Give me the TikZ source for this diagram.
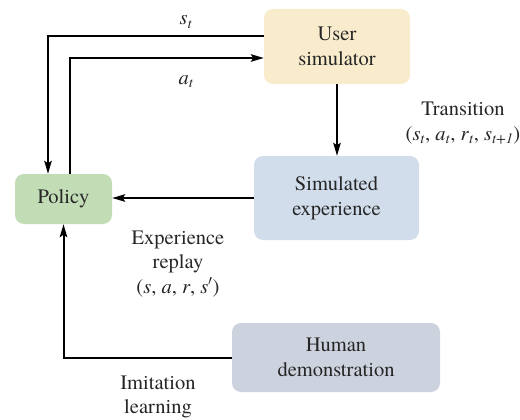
\documentclass[tikz,border=0pt]{standalone}
\usepackage{fontspec}
\setmainfont{texgyretermes-regular.otf}[ItalicFont=texgyretermes-italic.otf, BoldFont=texgyretermes-bold.otf]
\usetikzlibrary{arrows.meta}
\newcommand{\ivar}[2]{\textit{#1}\textsubscript{\textit{#2}}}
\begin{document}
\begin{tikzpicture}[x=1pt,y=-1pt,
  font=\fontsize{20.5}{24.5}\selectfont,
  every node/.style={text=black!85, align=center},
  box/.style={rounded corners=9pt, draw=none, inner sep=0pt},
  lbl/.style={inner sep=0pt},
  arr/.style={line width=2pt, draw=black, -{Stealth[length=13pt,width=7.5pt,inset=2.5pt]}}]
\useasboundingbox (0,0) rectangle (520,420);
\definecolor{cuser}{HTML}{F8ECCC}
\definecolor{cpol}{HTML}{C2DCB6}
\definecolor{csim}{HTML}{D1DDEB}
\definecolor{chum}{HTML}{CDD3DE}

\node[box, fill=cuser, minimum width=146pt, minimum height=75pt] (user) at (337,46.5) {User\\simulator};
\node[box, fill=cpol, minimum width=97pt, minimum height=50pt] (policy) at (63.5,199) {Policy};
\node[box, fill=csim, minimum width=165pt, minimum height=84pt] (sim) at (336.5,198) {Simulated\\experience};
\node[box, fill=chum, minimum width=208pt, minimum height=69pt] (human) at (336,357.5) {Human\\demonstration};

% state and action loop between policy and user simulator
\draw[arr] ([yshift=10.5pt]user.west) -| ([xshift=-15.5pt]policy.north);
\draw[arr] ([xshift=6.5pt]policy.north) |- ([yshift=-11.5pt]user.west);
\node[lbl] (st) at (186,22) {\ivar{s}{t}};
\node[lbl] (at) at (186,82) {\ivar{a}{t}};

% transitions into the simulated experience
\draw[arr] (user.south) -- (user.south |- sim.north);
\node[lbl] (trans) at (463,123) {Transition\\(\ivar{s}{t}, \ivar{a}{t}, \ivar{r}{t}, \ivar{s}{t+1})};

% experience replay
\draw[arr] (sim.west) -- (sim.west -| policy.east);
\node[lbl] (replay) at (178,264) {Experience\\replay\\(\textit{s}, \textit{a}, \textit{r}, \textit{s}$'$)};

% imitation learning
\draw[arr] (human.west) -| (policy.south);
\node[lbl] (imit) at (158,397) {Imitation\\learning};
\end{tikzpicture}
\end{document}
